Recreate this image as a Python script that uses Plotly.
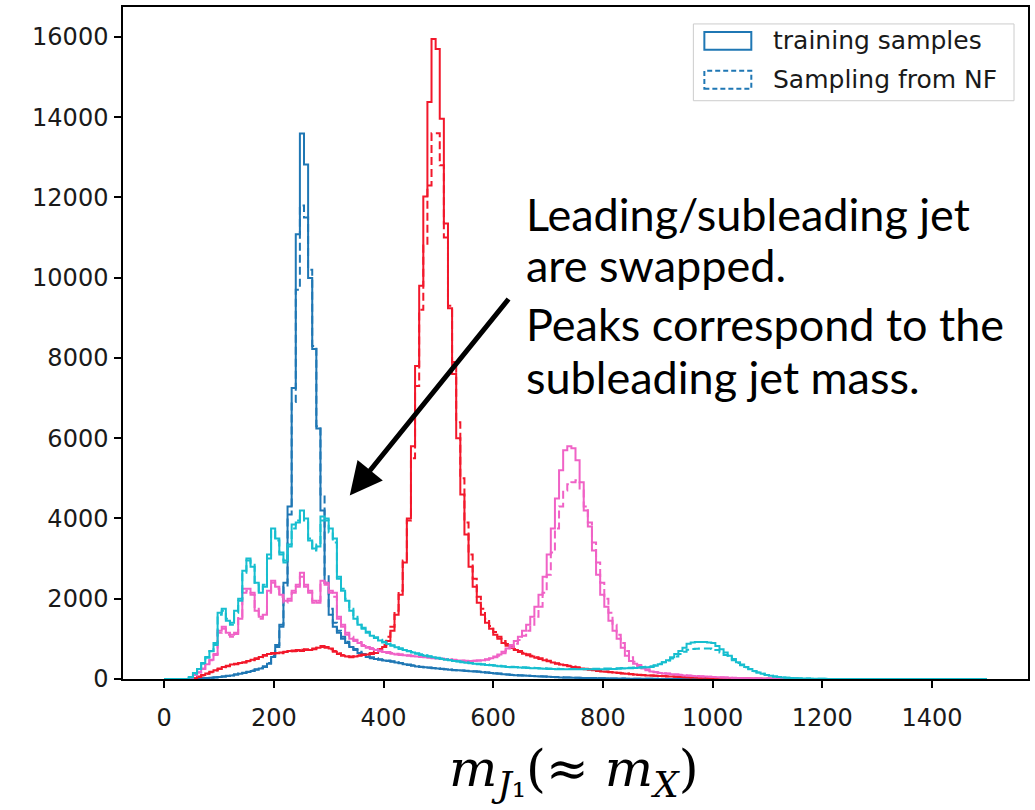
import numpy as np
import plotly.graph_objects as go

# ---------------- data (histogram counts, 200 bins of width 7.5 from 0 to 1500) ----------------
bin_edges = np.linspace(0, 1500, 201)
x_ticks = [0, 200, 400, 600, 800, 1000, 1200, 1400]
y_ticks = [0, 2000, 4000, 6000, 8000, 10000, 12000, 14000, 16000]

blue_train = (
    [0, 0, 0, 0, 0, 3, 6, 10, 15, 20]
    + [25, 30, 40, 50, 60, 75, 90, 110, 130, 150]
    + [175, 200, 230, 260, 300, 380, 550, 800, 1300, 2400]
    + [4300, 7250, 11080, 13590, 12820, 9990, 8220, 6240, 4200, 2400]
    + [1600, 1300, 1150, 1000, 900, 800, 720, 650, 600, 550]
    + [520, 500, 480, 460, 450, 430, 410, 390, 370, 350]
    + [330, 310, 300, 290, 280, 270, 260, 250, 240, 230]
    + [220, 215, 210, 200, 195, 190, 180, 170, 160, 150]
    + [140, 130, 120, 110, 100, 95, 90, 85, 80, 75]
    + [70, 65, 60, 55, 50, 45, 40, 38, 35, 32]
    + [30, 28, 26, 24, 22, 20, 18, 16, 14, 12]
    + [10, 10, 9, 8, 7, 6, 5, 5, 4, 4]
    + [3, 3, 2, 2, 1, 1, 1, 0, 0, 0]
    + [0] * 70
)
blue_nf = (
    [0, 0, 0, 0, 0, 2, 5, 9, 14, 20]
    + [26, 32, 42, 52, 62, 78, 95, 115, 135, 155]
    + [180, 210, 240, 275, 320, 400, 580, 850, 1350, 2300]
    + [4100, 6900, 9700, 11800, 11500, 10200, 8300, 6300, 4600, 2600]
    + [1750, 1400, 1200, 1050, 930, 830, 750, 680, 620, 570]
    + [540, 515, 495, 475, 460, 440, 420, 400, 380, 360]
    + [340, 320, 305, 295, 285, 275, 265, 255, 245, 235]
    + [225, 218, 212, 205, 198, 192, 185, 175, 165, 155]
    + [145, 135, 125, 115, 105, 98, 92, 87, 82, 77]
    + [72, 67, 62, 57, 52, 47, 42, 39, 36, 33]
    + [31, 29, 27, 25, 23, 21, 19, 17, 15, 13]
    + [11, 10, 9, 8, 7, 6, 6, 5, 4, 4]
    + [3, 3, 2, 2, 2, 1, 1, 1, 0, 0]
    + [0] * 70
)
red_train = (
    [0, 0, 0, 0, 0, 0, 0, 20, 60, 100]
    + [140, 180, 220, 260, 300, 330, 360, 380, 400, 420]
    + [450, 480, 520, 550, 600, 620, 650, 640, 660, 680]
    + [700, 690, 720, 700, 740, 720, 760, 780, 820, 800]
    + [760, 680, 620, 580, 560, 540, 560, 580, 600, 610]
    + [620, 650, 700, 800, 950, 1200, 1600, 2100, 2900, 4000]
    + [5800, 7800, 9800, 12020, 14380, 15950, 15700, 13960, 11350, 9240]
    + [7600, 6000, 4600, 3600, 2800, 2300, 1900, 1600, 1400, 1250]
    + [1100, 1000, 900, 830, 770, 720, 670, 630, 590, 560]
    + [530, 500, 470, 440, 410, 380, 360, 340, 320, 300]
    + [280, 260, 245, 230, 215, 200, 190, 180, 170, 160]
    + [150, 140, 130, 120, 110, 100, 95, 90, 85, 80]
    + [75, 70, 65, 60, 55, 50, 46, 42, 38, 35]
    + [32, 30, 28, 26, 24, 22, 20, 18, 16, 14]
    + [12, 11, 10, 9, 8, 7, 6, 5, 5, 4]
    + [4, 3, 3, 3, 2, 2, 2, 2, 1, 1]
    + [1, 1, 1, 0, 0, 0, 0, 0, 0, 0]
    + [0] * 30
)
red_nf = (
    [0, 0, 0, 0, 0, 0, 0, 15, 50, 90]
    + [130, 170, 210, 250, 290, 320, 350, 370, 390, 410]
    + [440, 470, 500, 540, 580, 610, 630, 650, 640, 670]
    + [690, 710, 700, 730, 720, 750, 740, 780, 800, 780]
    + [740, 700, 640, 600, 570, 560, 570, 590, 610, 630]
    + [650, 690, 750, 850, 1050, 1300, 1700, 2200, 2950, 3950]
    + [5500, 7300, 9200, 10800, 12300, 13600, 13600, 12800, 11000, 9300]
    + [7900, 6400, 5000, 3900, 3100, 2500, 2050, 1750, 1500, 1320]
    + [1170, 1050, 950, 870, 800, 745, 700, 655, 615, 580]
    + [545, 515, 485, 455, 425, 395, 370, 350, 330, 310]
    + [290, 270, 255, 240, 225, 210, 198, 186, 175, 165]
    + [155, 145, 135, 125, 115, 105, 99, 93, 88, 83]
    + [78, 72, 67, 62, 57, 52, 48, 44, 40, 37]
    + [34, 31, 29, 27, 25, 23, 21, 19, 17, 15]
    + [13, 12, 11, 10, 9, 8, 7, 6, 5, 5]
    + [4, 4, 3, 3, 3, 2, 2, 2, 1, 1]
    + [1, 1, 1, 1, 0, 0, 0, 0, 0, 0]
    + [0] * 30
)
pink_train = (
    [0, 0, 0, 0, 0, 0, 30, 100, 170, 260]
    + [370, 480, 600, 1200, 1300, 1150, 1100, 1120, 1500, 2250]
    + [2250, 2150, 1700, 1550, 1600, 2200, 2450, 2300, 2100, 1950]
    + [1950, 2200, 2300, 2650, 2350, 2200, 1950, 1900, 2450, 2400]
    + [2200, 2150, 1500, 1300, 1100, 1000, 950, 900, 820, 780]
    + [750, 720, 690, 670, 650, 630, 610, 600, 590, 580]
    + [570, 560, 550, 540, 530, 520, 510, 500, 490, 480]
    + [470, 460, 455, 450, 450, 455, 460, 470, 490, 520]
    + [560, 610, 680, 760, 850, 950, 1050, 1200, 1350, 1550]
    + [1800, 2100, 2550, 3100, 3750, 4500, 5200, 5700, 5800, 5750]
    + [5450, 4900, 4200, 3800, 3200, 2600, 2100, 1800, 1450, 1200]
    + [1000, 780, 580, 450, 380, 320, 260, 220, 190, 170]
    + [150, 140, 130, 120, 110, 100, 90, 80, 75, 70]
    + [65, 60, 55, 50, 45, 40, 36, 32, 28, 25]
    + [22, 20, 18, 16, 14, 12, 10, 9, 8, 7]
    + [6, 5, 4, 4, 3, 3, 2, 2, 2, 1]
    + [1, 1, 1, 1, 0, 0, 0, 0, 0, 0]
    + [0] * 30
)
pink_nf = (
    [0, 0, 0, 0, 0, 0, 25, 90, 160, 250]
    + [360, 470, 620, 1150, 1250, 1100, 1050, 1150, 1550, 2150]
    + [2200, 2100, 1750, 1500, 1650, 2150, 2400, 2250, 2050, 1900]
    + [2000, 2150, 2350, 2550, 2300, 2150, 1900, 1950, 2400, 2350]
    + [2150, 2050, 1550, 1350, 1150, 1050, 980, 920, 850, 800]
    + [770, 740, 710, 690, 670, 650, 630, 615, 600, 590]
    + [580, 570, 560, 550, 540, 530, 520, 510, 500, 490]
    + [480, 470, 460, 455, 455, 455, 460, 465, 480, 505]
    + [540, 580, 640, 710, 790, 880, 970, 1080, 1200, 1350]
    + [1550, 1800, 2150, 2600, 3150, 3750, 4300, 4700, 4850, 4900]
    + [4950, 4700, 4300, 3900, 3400, 2900, 2400, 2000, 1650, 1350]
    + [1100, 900, 700, 540, 430, 350, 290, 240, 200, 175]
    + [155, 145, 135, 125, 115, 105, 95, 85, 78, 72]
    + [67, 62, 57, 52, 47, 42, 38, 34, 30, 27]
    + [24, 21, 19, 17, 15, 13, 11, 10, 9, 8]
    + [7, 6, 5, 4, 4, 3, 3, 2, 2, 2]
    + [1, 1, 1, 1, 1, 0, 0, 0, 0, 0]
    + [0] * 30
)
cyan_train = (
    [0, 0, 0, 0, 0, 0, 50, 150, 250, 400]
    + [550, 700, 850, 1650, 1750, 1450, 1400, 1700, 1950, 2700]
    + [3000, 2800, 2400, 2150, 2300, 3100, 3750, 3500, 3100, 2950]
    + [3300, 3850, 3900, 4200, 4000, 3450, 3250, 3300, 4050, 4000]
    + [3750, 3500, 2500, 2200, 1950, 1700, 1500, 1350, 1250, 1150]
    + [1080, 1020, 960, 910, 870, 830, 790, 750, 720, 690]
    + [660, 630, 600, 580, 560, 540, 520, 500, 480, 465]
    + [450, 435, 420, 405, 390, 380, 370, 360, 350, 340]
    + [330, 320, 310, 300, 295, 290, 285, 280, 275, 270]
    + [265, 260, 255, 250, 250, 245, 245, 240, 240, 240]
    + [240, 240, 240, 240, 240, 245, 245, 245, 250, 250]
    + [255, 260, 265, 270, 275, 280, 285, 290, 300, 330]
    + [370, 420, 470, 540, 620, 700, 780, 880, 910, 920]
    + [920, 920, 910, 900, 820, 740, 660, 580, 500, 420]
    + [360, 300, 250, 200, 160, 130, 100, 80, 65, 50]
    + [40, 32, 25, 20, 15, 12, 10, 8, 6, 5]
    + [4, 3, 3, 2, 2, 2, 1, 1, 1, 1]
    + [0] * 30
)
cyan_nf = (
    [0, 0, 0, 0, 0, 0, 40, 130, 240, 380]
    + [530, 690, 900, 1600, 1700, 1500, 1350, 1650, 2000, 2650]
    + [2950, 2850, 2350, 2200, 2350, 3000, 3700, 3450, 3150, 2900]
    + [3350, 3750, 3950, 4100, 3950, 3500, 3200, 3350, 3950, 3950]
    + [3650, 3400, 2550, 2250, 2000, 1750, 1550, 1400, 1280, 1180]
    + [1100, 1040, 980, 930, 885, 840, 800, 765, 730, 700]
    + [670, 640, 615, 590, 570, 550, 530, 510, 490, 475]
    + [460, 445, 430, 415, 400, 390, 380, 370, 360, 350]
    + [340, 330, 320, 310, 305, 300, 295, 290, 285, 280]
    + [275, 270, 265, 260, 258, 255, 252, 250, 250, 250]
    + [250, 250, 250, 252, 254, 256, 258, 260, 262, 265]
    + [268, 272, 276, 280, 285, 290, 296, 305, 320, 345]
    + [380, 420, 460, 510, 560, 620, 680, 730, 750, 755]
    + [760, 760, 760, 750, 720, 660, 600, 540, 470, 400]
    + [340, 290, 240, 195, 160, 130, 100, 80, 65, 50]
    + [40, 32, 25, 20, 16, 12, 10, 8, 6, 5]
    + [4, 3, 3, 2, 2, 2, 1, 1, 1, 1]
    + [0] * 30
)

series = [
    ("blue", "#1f77b4", blue_train, blue_nf),
    ("red", "#f2182b", red_train, red_nf),
    ("pink", "#f062c6", pink_train, pink_nf),
    ("cyan", "#17becf", cyan_train, cyan_nf),
]

legend_labels = ["training samples", "Sampling from NF"]
annotation_lines = ["Leading/subleading jet", "are swapped.",
                    "Peaks correspond to the", "subleading jet mass."]

# ---------------- figure ----------------
W, H = 1035, 810
ML, MR, MT, MB = 123, 6, 5, 131
PW, PH = W - ML - MR, H - MT - MB


def px_x(p):
    return (p - ML) / PW


def px_y(p):
    return (H - MB - p) / PH


def step_xy(edges, counts):
    e = list(edges)
    xs = [e[0]] + e[:-1] + [e[-1], e[-1]]
    ys = [0] + list(counts) + [counts[-1], 0]
    return xs, ys


fig = go.Figure()
for name, col, tr, nf in series:
    assert len(tr) == 200 and len(nf) == 200
    for counts, dash, lab in [(tr, "solid", "training"), (nf, "8px,4px", "NF")]:
        xs, ys = step_xy(bin_edges, counts)
        fig.add_trace(go.Scatter(x=xs, y=ys, mode="lines", line_shape="hv",
                                 line=dict(color=col, width=2, dash=dash),
                                 name=f"{name} {lab}", showlegend=False,
                                 hoverinfo="skip"))

fig.update_layout(
    width=W, height=H,
    margin=dict(l=ML, r=MR, t=MT, b=MB),
    paper_bgcolor="white", plot_bgcolor="white",
    showlegend=False,
    xaxis=dict(range=[-75, 1575], tickmode="array", tickvals=x_ticks,
               ticktext=[str(v) for v in x_ticks],
               showgrid=False, zeroline=False, showline=True, mirror=True,
               linecolor="black", linewidth=1.5, ticks="outside", ticklen=7,
               tickwidth=1.5, tickcolor="black",
               tickfont=dict(family="DejaVu Sans", size=24, color="#1a1a1a"),
               ticklabelstandoff=9),
    yaxis=dict(range=[0, 16745], tickmode="array", tickvals=y_ticks,
               ticktext=[str(v) for v in y_ticks],
               showgrid=False, zeroline=False, showline=True, mirror=True,
               linecolor="black", linewidth=1.5, ticks="outside", ticklen=7,
               tickwidth=1.5, tickcolor="black",
               tickfont=dict(family="DejaVu Sans", size=24, color="#1a1a1a"),
               ticklabelstandoff=1),
)

shapes = []
annotations = []

# legend box
shapes.append(dict(type="rect", xref="paper", yref="paper",
                   x0=px_x(694), x1=px_x(1015), y0=px_y(99), y1=px_y(22),
                   line=dict(color="#cccccc", width=1), fillcolor="white"))
for i, (lab, dash) in enumerate(zip(legend_labels, ["solid", "dash"])):
    cy = 39 + i * 39
    shapes.append(dict(type="rect", xref="paper", yref="paper",
                       x0=px_x(705), x1=px_x(752), y0=px_y(cy + 9), y1=px_y(cy - 9),
                       line=dict(color="#1f77b4", width=2,
                                 dash="solid" if dash == "solid" else "5px,3px"),
                       fillcolor="rgba(0,0,0,0)"))
    annotations.append(dict(text=lab, xref="paper", yref="paper",
                            x=px_x(772), y=px_y(cy), xanchor="left", yanchor="middle",
                            showarrow=False,
                            font=dict(family="DejaVu Sans", size=25, color="#1a1a1a")))

# text annotation
line_y = [213, 264, 323, 376]
for txt, yy in zip(annotation_lines, line_y):
    annotations.append(dict(text=txt, xref="paper", yref="paper",
                            x=px_x(524), y=px_y(yy), xanchor="left", yanchor="middle",
                            showarrow=False,
                            font=dict(family="Lato", size=45, color="black")))

# arrow
annotations.append(dict(text="", xref="paper", yref="paper",
                        x=px_x(350), y=px_y(495), ax=160, ay=-198,
                        showarrow=True, arrowhead=2, arrowsize=1.3,
                        arrowwidth=5, arrowcolor="black", standoff=0))

# x-axis title
annotations.append(dict(text="<i>m</i><sub><i>J</i>₁</sub>(≈ <i>m</i><sub><i>X</i></sub>)",
                        xref="paper", yref="paper", x=px_x(574), y=px_y(772),
                        xanchor="center", yanchor="middle", showarrow=False,
                        font=dict(family="DejaVu Serif", size=51, color="black")))

fig.update_layout(shapes=shapes, annotations=annotations)
fig.write_html("out.html")
